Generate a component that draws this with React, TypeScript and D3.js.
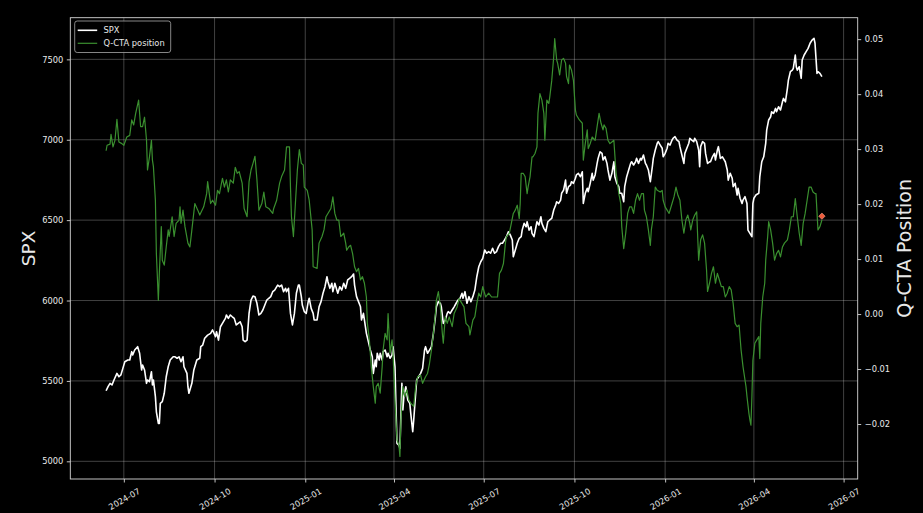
import React, { useRef, useEffect } from 'react';
import * as d3 from 'd3';

// SPX close
const spxSeries: [string, number][] = [
  ["2024-06-13",5439],["2024-06-15",5464],["2024-06-17",5485],["2024-06-19",5475],["2024-06-21",5506],["2024-06-24",5547],["2024-06-26",5526],["2024-06-28",5537],["2024-06-30",5578],
  ["2024-07-02",5619],["2024-07-05",5630],["2024-07-07",5630],["2024-07-09",5682],["2024-07-10",5661],["2024-07-12",5692],["2024-07-15",5713],["2024-07-17",5672],["2024-07-19",5568],["2024-07-20",5599],["2024-07-22",5568],["2024-07-24",5485],["2024-07-25",5506],["2024-07-27",5495],["2024-07-29",5557],["2024-07-30",5475],["2024-07-31",5506],
  ["2024-08-02",5402],["2024-08-03",5308],["2024-08-05",5236],["2024-08-06",5236],["2024-08-07",5361],["2024-08-09",5371],["2024-08-11",5423],["2024-08-13",5526],["2024-08-15",5588],["2024-08-17",5630],["2024-08-20",5650],["2024-08-22",5650],["2024-08-24",5641],["2024-08-26",5650],["2024-08-28",5619],["2024-08-30",5650],["2024-08-31",5588],
  ["2024-09-03",5547],["2024-09-04",5464],["2024-09-05",5423],["2024-09-08",5485],["2024-09-10",5568],["2024-09-13",5630],["2024-09-16",5641],["2024-09-17",5713],["2024-09-19",5723],["2024-09-21",5765],["2024-09-24",5785],["2024-09-27",5796],["2024-09-29",5817],
  ["2024-10-02",5775],["2024-10-03",5806],["2024-10-05",5754],["2024-10-07",5837],["2024-10-09",5858],["2024-10-12",5889],["2024-10-13",5910],["2024-10-15",5889],["2024-10-17",5910],["2024-10-19",5899],["2024-10-21",5889],["2024-10-23",5848],["2024-10-25",5858],["2024-10-27",5868],["2024-10-29",5837],["2024-10-30",5754],
  ["2024-11-01",5744],["2024-11-03",5754],["2024-11-05",5920],["2024-11-07",6003],["2024-11-09",6028],["2024-11-11",6024],["2024-11-13",5983],["2024-11-15",5910],["2024-11-17",5920],["2024-11-19",5941],["2024-11-21",5972],["2024-11-23",6003],["2024-11-25",6014],["2024-11-27",6024],["2024-11-29",6055],
  ["2024-12-01",6065],["2024-12-04",6096],["2024-12-06",6086],["2024-12-08",6096],["2024-12-10",6055],["2024-12-12",6076],["2024-12-13",6055],["2024-12-15",6076],["2024-12-17",5920],["2024-12-19",5848],["2024-12-21",5920],["2024-12-23",6045],["2024-12-25",6096],["2024-12-26",6096],["2024-12-28",6024],["2024-12-29",5972],["2024-12-31",5931],
  ["2025-01-02",5920],["2025-01-04",5993],["2025-01-05",6014],["2025-01-07",5951],["2025-01-09",5920],["2025-01-10",5879],["2025-01-13",5879],["2025-01-15",5961],["2025-01-17",5993],["2025-01-19",6045],["2025-01-21",6086],["2025-01-23",6148],["2025-01-24",6117],["2025-01-26",6076],["2025-01-28",6107],["2025-01-29",6055],["2025-01-31",6107],
  ["2025-02-03",6045],["2025-02-05",6086],["2025-02-07",6065],["2025-02-09",6107],["2025-02-11",6076],["2025-02-13",6128],["2025-02-15",6138],["2025-02-17",6148],["2025-02-19",6165],["2025-02-20",6096],["2025-02-22",6024],["2025-02-24",5993],["2025-02-26",5961],["2025-02-27",5879],
  ["2025-03-01",5920],["2025-03-03",5837],["2025-03-04",5796],["2025-03-06",5744],["2025-03-08",5692],["2025-03-10",5650],["2025-03-11",5547],["2025-03-13",5630],["2025-03-14",5588],["2025-03-15",5672],["2025-03-17",5630],["2025-03-18",5672],["2025-03-20",5630],["2025-03-21",5682],["2025-03-23",5692],["2025-03-25",5650],["2025-03-26",5672],["2025-03-28",5641],["2025-03-30",5661],["2025-03-31",5713],
  ["2025-04-02",5588],["2025-04-03",5340],["2025-04-04",5112],["2025-04-06",5101],["2025-04-07",5081],["2025-04-09",5485],["2025-04-10",5319],["2025-04-11",5402],["2025-04-13",5464],["2025-04-15",5381],["2025-04-17",5361],["2025-04-18",5298],["2025-04-20",5184],["2025-04-21",5257],["2025-04-23",5423],["2025-04-24",5506],["2025-04-26",5526],["2025-04-28",5547],["2025-04-30",5578],
  ["2025-05-02",5692],["2025-05-03",5713],["2025-05-05",5672],["2025-05-07",5692],["2025-05-09",5713],["2025-05-11",5796],["2025-05-13",5899],["2025-05-14",5961],["2025-05-16",5993],["2025-05-18",5983],["2025-05-19",5961],["2025-05-21",5858],["2025-05-23",5879],["2025-05-25",5920],["2025-05-26",5931],["2025-05-28",5920],["2025-05-30",5941],
  ["2025-06-01",5961],["2025-06-03",5983],["2025-06-05",6003],["2025-06-07",6014],["2025-06-09",6045],["2025-06-10",6014],["2025-06-12",6055],["2025-06-14",5983],["2025-06-16",6024],["2025-06-18",5993],["2025-06-20",6024],["2025-06-22",6065],["2025-06-24",6148],["2025-06-26",6210],["2025-06-28",6241],["2025-06-30",6262],
  ["2025-07-02",6314],["2025-07-04",6294],["2025-07-06",6304],["2025-07-08",6294],["2025-07-10",6325],["2025-07-12",6294],["2025-07-14",6304],["2025-07-16",6335],["2025-07-18",6356],["2025-07-20",6356],["2025-07-22",6376],["2025-07-24",6397],["2025-07-26",6428],["2025-07-28",6407],["2025-07-30",6376],["2025-07-31",6272],
  ["2025-08-03",6335],["2025-08-04",6356],["2025-08-06",6387],["2025-08-08",6397],["2025-08-09",6438],["2025-08-11",6480],["2025-08-13",6459],["2025-08-14",6490],["2025-08-16",6438],["2025-08-18",6459],["2025-08-19",6418],["2025-08-21",6397],["2025-08-23",6459],["2025-08-24",6490],["2025-08-26",6469],["2025-08-28",6521],["2025-08-29",6480],["2025-08-31",6449],
  ["2025-09-02",6428],["2025-09-04",6490],["2025-09-06",6501],["2025-09-08",6511],["2025-09-10",6563],["2025-09-12",6594],["2025-09-13",6614],["2025-09-15",6604],["2025-09-17",6625],["2025-09-18",6667],["2025-09-20",6687],["2025-09-22",6749],["2025-09-23",6667],["2025-09-25",6708],["2025-09-27",6718],["2025-09-28",6739],["2025-09-30",6729],
  ["2025-10-02",6760],["2025-10-03",6781],["2025-10-05",6791],["2025-10-07",6770],["2025-10-09",6801],["2025-10-10",6604],["2025-10-12",6667],["2025-10-14",6698],["2025-10-15",6677],["2025-10-17",6729],["2025-10-19",6791],["2025-10-20",6749],["2025-10-22",6781],["2025-10-24",6853],["2025-10-25",6884],["2025-10-27",6925],["2025-10-29",6915],["2025-10-30",6874],
  ["2025-11-01",6894],["2025-11-03",6853],["2025-11-04",6812],["2025-11-06",6749],["2025-11-08",6791],["2025-11-10",6863],["2025-11-11",6770],["2025-11-13",6729],["2025-11-15",6708],["2025-11-16",6667],["2025-11-18",6667],["2025-11-20",6614],["2025-11-21",6708],["2025-11-23",6770],["2025-11-25",6812],["2025-11-27",6853],["2025-11-28",6863],["2025-11-30",6843],
  ["2025-12-02",6863],["2025-12-03",6884],["2025-12-05",6853],["2025-12-07",6884],["2025-12-08",6874],["2025-12-10",6905],["2025-12-12",6853],["2025-12-13",6843],["2025-12-15",6812],["2025-12-17",6739],["2025-12-19",6832],["2025-12-20",6884],["2025-12-22",6936],["2025-12-24",6978],["2025-12-25",6988],["2025-12-27",6967],["2025-12-29",6947],["2025-12-30",6894],
  ["2026-01-01",6915],["2026-01-03",6947],["2026-01-04",6978],["2026-01-06",6967],["2026-01-08",6998],["2026-01-09",7009],["2026-01-11",7019],["2026-01-13",6998],["2026-01-15",6988],["2026-01-16",6957],["2026-01-18",6905],["2026-01-20",6853],["2026-01-21",6915],["2026-01-23",6947],["2026-01-25",6978],["2026-01-26",7009],["2026-01-28",6998],["2026-01-30",6988],["2026-01-31",7009],
  ["2026-02-02",6988],["2026-02-04",6936],["2026-02-05",6832],["2026-02-06",6957],["2026-02-08",6988],["2026-02-10",6978],["2026-02-11",6915],["2026-02-13",6853],["2026-02-15",6863],["2026-02-16",6863],["2026-02-18",6894],["2026-02-20",6915],["2026-02-21",6874],["2026-02-23",6936],["2026-02-24",6957],["2026-02-26",6884],["2026-02-28",6894],
  ["2026-03-01",6884],["2026-03-03",6863],["2026-03-05",6812],["2026-03-06",6749],["2026-03-08",6791],["2026-03-10",6760],["2026-03-11",6708],["2026-03-13",6729],["2026-03-15",6656],["2026-03-16",6698],["2026-03-18",6636],["2026-03-20",6604],["2026-03-21",6625],["2026-03-23",6646],["2026-03-25",6604],["2026-03-26",6438],["2026-03-28",6418],["2026-03-30",6397],["2026-03-31",6604],
  ["2026-04-01",6636],["2026-04-03",6656],["2026-04-06",6667],["2026-04-07",6770],["2026-04-09",6863],["2026-04-11",6894],["2026-04-13",6978],["2026-04-14",7060],["2026-04-16",7123],["2026-04-18",7143],["2026-04-19",7174],["2026-04-21",7164],["2026-04-23",7195],["2026-04-24",7174],["2026-04-26",7205],["2026-04-28",7185],["2026-04-30",7236],
  ["2026-05-01",7257],["2026-05-03",7236],["2026-05-05",7320],["2026-05-06",7371],["2026-05-08",7423],["2026-05-10",7433],["2026-05-11",7444],["2026-05-13",7527],["2026-05-14",7454],["2026-05-15",7433],["2026-05-17",7454],["2026-05-19",7382],["2026-05-20",7496],["2026-05-22",7527],["2026-05-24",7548],["2026-05-26",7568],["2026-05-28",7600],["2026-05-30",7620],
  ["2026-06-01",7631],["2026-06-02",7600],["2026-06-04",7413],["2026-06-05",7423],["2026-06-07",7413],["2026-06-09",7392],
];

// Q-CTA position (right axis)
const ctaSeries: [string, number][] = [
  ["2024-06-13",0.0297],["2024-06-14",0.0307],["2024-06-17",0.0309],["2024-06-18",0.0327],["2024-06-20",0.0304],["2024-06-22",0.0316],["2024-06-24",0.0354],["2024-06-26",0.0313],["2024-06-29",0.0310],
  ["2024-07-01",0.0307],["2024-07-04",0.0322],["2024-07-07",0.0325],["2024-07-09",0.0353],["2024-07-11",0.0344],["2024-07-13",0.0365],["2024-07-16",0.0389],["2024-07-18",0.0341],["2024-07-20",0.0341],["2024-07-22",0.0358],["2024-07-24",0.0316],["2024-07-25",0.0262],["2024-07-27",0.0286],["2024-07-29",0.0316],["2024-07-30",0.0280],["2024-07-31",0.0268],
  ["2024-08-02",0.0207],["2024-08-03",0.0110],["2024-08-05",0.0025],["2024-08-06",0.0074],["2024-08-08",0.0159],["2024-08-09",0.0098],["2024-08-11",0.0089],["2024-08-13",0.0122],["2024-08-15",0.0153],["2024-08-16",0.0141],["2024-08-19",0.0177],["2024-08-21",0.0141],["2024-08-23",0.0165],["2024-08-26",0.0171],["2024-08-27",0.0195],["2024-08-28",0.0165],["2024-08-30",0.0189],
  ["2024-09-01",0.0159],["2024-09-04",0.0129],["2024-09-06",0.0122],["2024-09-08",0.0153],["2024-09-11",0.0201],["2024-09-14",0.0189],["2024-09-16",0.0180],["2024-09-20",0.0195],["2024-09-23",0.0219],["2024-09-24",0.0241],["2024-09-27",0.0201],["2024-09-29",0.0207],
  ["2024-10-02",0.0198],["2024-10-04",0.0225],["2024-10-06",0.0219],["2024-10-09",0.0247],["2024-10-11",0.0231],["2024-10-13",0.0244],["2024-10-15",0.0222],["2024-10-17",0.0244],["2024-10-20",0.0238],["2024-10-22",0.0267],["2024-10-24",0.0256],["2024-10-26",0.0259],["2024-10-29",0.0238],["2024-10-31",0.0192],
  ["2024-11-03",0.0177],["2024-11-05",0.0241],["2024-11-07",0.0262],["2024-11-09",0.0274],["2024-11-11",0.0287],["2024-11-13",0.0244],["2024-11-15",0.0189],["2024-11-18",0.0201],["2024-11-20",0.0222],["2024-11-22",0.0195],["2024-11-25",0.0192],["2024-11-29",0.0183],["2024-11-30",0.0192],
  ["2024-12-03",0.0207],["2024-12-06",0.0238],["2024-12-08",0.0250],["2024-12-11",0.0262],["2024-12-13",0.0304],["2024-12-16",0.0304],["2024-12-17",0.0231],["2024-12-18",0.0177],["2024-12-20",0.0141],["2024-12-22",0.0201],["2024-12-24",0.0262],["2024-12-26",0.0299],["2024-12-28",0.0274],["2024-12-30",0.0271],["2024-12-31",0.0231],
  ["2025-01-03",0.0225],["2025-01-05",0.0207],["2025-01-08",0.0153],["2025-01-09",0.0086],["2025-01-13",0.0083],["2025-01-15",0.0129],["2025-01-18",0.0141],["2025-01-20",0.0153],["2025-01-22",0.0177],["2025-01-24",0.0183],["2025-01-27",0.0192],["2025-01-29",0.0213],["2025-01-31",0.0183],
  ["2025-02-02",0.0171],["2025-02-04",0.0171],["2025-02-06",0.0141],["2025-02-09",0.0147],["2025-02-11",0.0129],["2025-02-12",0.0116],["2025-02-14",0.0122],["2025-02-16",0.0125],["2025-02-18",0.0110],["2025-02-20",0.0086],["2025-02-22",0.0077],["2025-02-24",0.0083],["2025-02-26",0.0062],["2025-02-28",0.0068],
  ["2025-03-02",0.0056],["2025-03-04",0.0031],["2025-03-05",-0.0017],["2025-03-07",-0.0047],["2025-03-09",-0.0096],["2025-03-11",-0.0132],["2025-03-13",-0.0162],["2025-03-14",-0.0132],["2025-03-16",-0.0126],["2025-03-18",-0.0144],["2025-03-20",-0.0096],["2025-03-21",-0.0065],["2025-03-23",-0.0035],["2025-03-25",-0.0047],["2025-03-26",0.0001],["2025-03-28",-0.0071],["2025-03-30",-0.0047],["2025-03-31",-0.0071],
  ["2025-04-02",-0.0156],["2025-04-04",-0.0229],["2025-04-06",-0.0238],["2025-04-07",-0.0259],["2025-04-08",-0.0193],["2025-04-10",-0.0132],["2025-04-12",-0.0150],["2025-04-14",-0.0138],["2025-04-16",-0.0156],["2025-04-18",-0.0162],["2025-04-21",-0.0168],["2025-04-23",-0.0132],["2025-04-25",-0.0114],["2025-04-28",-0.0111],["2025-04-30",-0.0126],
  ["2025-05-03",-0.0114],["2025-05-05",-0.0108],["2025-05-07",-0.0090],["2025-05-09",-0.0065],["2025-05-11",-0.0035],["2025-05-13",0.0001],["2025-05-14",0.0025],["2025-05-16",0.0041],["2025-05-18",0.0013],["2025-05-20",-0.0035],["2025-05-21",-0.0053],["2025-05-23",-0.0005],["2025-05-25",-0.0017],["2025-05-27",-0.0005],["2025-05-30",-0.0023],
  ["2025-06-01",0.0001],["2025-06-04",0.0013],["2025-06-06",0.0028],["2025-06-09",0.0019],["2025-06-11",0.0013],["2025-06-13",-0.0017],["2025-06-16",-0.0023],["2025-06-17",-0.0038],["2025-06-20",-0.0011],["2025-06-22",-0.0005],["2025-06-24",0.0019],["2025-06-26",0.0038],["2025-06-28",0.0031],["2025-06-30",0.0050],
  ["2025-07-03",0.0031],["2025-07-06",0.0038],["2025-07-09",0.0031],["2025-07-13",0.0031],["2025-07-15",0.0031],["2025-07-17",0.0074],["2025-07-19",0.0080],["2025-07-21",0.0092],["2025-07-23",0.0129],["2025-07-24",0.0141],["2025-07-27",0.0147],["2025-07-29",0.0165],["2025-07-31",0.0183],
  ["2025-08-02",0.0189],["2025-08-04",0.0198],["2025-08-06",0.0174],["2025-08-07",0.0201],["2025-08-08",0.0256],["2025-08-10",0.0256],["2025-08-12",0.0250],["2025-08-14",0.0219],["2025-08-15",0.0231],["2025-08-17",0.0250],["2025-08-19",0.0286],["2025-08-20",0.0286],["2025-08-22",0.0292],["2025-08-24",0.0304],["2025-08-25",0.0365],["2025-08-27",0.0401],["2025-08-29",0.0389],["2025-08-31",0.0365],
  ["2025-09-01",0.0316],["2025-09-03",0.0389],["2025-09-05",0.0383],["2025-09-06",0.0395],["2025-09-08",0.0425],["2025-09-10",0.0468],["2025-09-11",0.0501],["2025-09-13",0.0462],["2025-09-14",0.0456],["2025-09-16",0.0435],["2025-09-18",0.0462],["2025-09-20",0.0465],["2025-09-22",0.0456],["2025-09-23",0.0432],["2025-09-25",0.0419],["2025-09-26",0.0453],["2025-09-28",0.0444],["2025-09-30",0.0425],
  ["2025-10-02",0.0371],["2025-10-03",0.0362],["2025-10-06",0.0353],["2025-10-09",0.0347],["2025-10-10",0.0280],["2025-10-12",0.0310],["2025-10-14",0.0335],["2025-10-15",0.0301],["2025-10-17",0.0310],["2025-10-19",0.0322],["2025-10-22",0.0316],["2025-10-24",0.0341],["2025-10-26",0.0365],["2025-10-28",0.0347],["2025-10-30",0.0335],["2025-10-31",0.0344],
  ["2025-11-02",0.0338],["2025-11-04",0.0316],["2025-11-06",0.0310],["2025-11-08",0.0313],["2025-11-10",0.0316],["2025-11-12",0.0262],["2025-11-15",0.0219],["2025-11-17",0.0201],["2025-11-18",0.0159],["2025-11-20",0.0119],["2025-11-22",0.0147],["2025-11-24",0.0183],["2025-11-26",0.0195],["2025-11-28",0.0195],["2025-11-30",0.0183],
  ["2025-12-02",0.0207],["2025-12-04",0.0219],["2025-12-06",0.0207],["2025-12-08",0.0219],["2025-12-10",0.0219],["2025-12-11",0.0189],["2025-12-13",0.0177],["2025-12-15",0.0153],["2025-12-17",0.0125],["2025-12-18",0.0153],["2025-12-20",0.0177],["2025-12-22",0.0231],["2025-12-24",0.0225],["2025-12-27",0.0222],["2025-12-29",0.0225],["2025-12-30",0.0207],
  ["2026-01-01",0.0195],["2026-01-03",0.0189],["2026-01-05",0.0183],["2026-01-08",0.0201],["2026-01-10",0.0213],["2026-01-12",0.0231],["2026-01-14",0.0216],["2026-01-16",0.0207],["2026-01-18",0.0171],["2026-01-20",0.0147],["2026-01-22",0.0171],["2026-01-24",0.0180],["2026-01-26",0.0165],["2026-01-27",0.0153],["2026-01-29",0.0171],["2026-01-31",0.0180],
  ["2026-02-02",0.0186],["2026-02-03",0.0141],["2026-02-04",0.0098],["2026-02-06",0.0135],["2026-02-08",0.0144],["2026-02-10",0.0129],["2026-02-12",0.0080],["2026-02-13",0.0041],["2026-02-15",0.0056],["2026-02-17",0.0074],["2026-02-19",0.0086],["2026-02-21",0.0056],["2026-02-23",0.0074],["2026-02-25",0.0062],["2026-02-27",0.0050],
  ["2026-03-01",0.0050],["2026-03-03",0.0031],["2026-03-05",0.0038],["2026-03-07",0.0050],["2026-03-09",0.0044],["2026-03-11",0.0019],["2026-03-13",-0.0017],["2026-03-15",-0.0023],["2026-03-17",-0.0020],["2026-03-19",-0.0065],["2026-03-21",-0.0096],["2026-03-23",-0.0120],["2026-03-24",-0.0132],["2026-03-25",-0.0150],["2026-03-27",-0.0181],["2026-03-28",-0.0193],["2026-03-29",-0.0202],["2026-03-30",-0.0150],["2026-03-31",-0.0084],
  ["2026-04-02",-0.0053],["2026-04-04",-0.0047],["2026-04-06",-0.0041],["2026-04-07",-0.0081],["2026-04-08",-0.0017],["2026-04-10",0.0031],["2026-04-12",0.0056],["2026-04-13",0.0098],["2026-04-15",0.0141],["2026-04-16",0.0168],["2026-04-18",0.0153],["2026-04-20",0.0129],["2026-04-22",0.0098],["2026-04-24",0.0110],["2026-04-26",0.0116],["2026-04-28",0.0104],["2026-04-30",0.0122],
  ["2026-05-02",0.0129],["2026-05-05",0.0135],["2026-05-07",0.0153],["2026-05-09",0.0177],["2026-05-11",0.0177],["2026-05-13",0.0210],["2026-05-15",0.0177],["2026-05-17",0.0147],["2026-05-19",0.0125],["2026-05-21",0.0165],["2026-05-23",0.0183],["2026-05-25",0.0207],["2026-05-27",0.0231],["2026-05-29",0.0231],["2026-05-31",0.0222],
  ["2026-06-02",0.0219],["2026-06-03",0.0219],["2026-06-05",0.0153],["2026-06-07",0.0159],["2026-06-09",0.0171],
];

// latest Q-CTA reading, drawn as a diamond
const latestMarker: [string, number] = ["2026-06-09", 0.0178];

const xTicks = ["2024-07-01", "2024-10-01", "2025-01-01", "2025-04-01", "2025-07-01", "2025-10-01", "2026-01-01", "2026-04-01", "2026-07-01"];
const spxTicks = [5000, 5500, 6000, 6500, 7000, 7500];
const ctaTicks = [-0.02, -0.01, 0, 0.01, 0.02, 0.03, 0.04, 0.05];
const spxDomain = [4890, 7759];
const ctaDomain = [-0.0300, 0.0539];
const legendItems = [
  { label: "SPX", color: "#ffffff", width: 1.6 },
  { label: "Q-CTA position", color: "#3a8f2f", width: 1.2 },
];

const W = 923;
const H = 513;
const FONT = "'DejaVu Sans', sans-serif";

const App: React.FC = () => {
  const svgRef = useRef<SVGSVGElement>(null);

  useEffect(() => {
    if (!svgRef.current) return;
    const svg = d3.select(svgRef.current);
    svg.selectAll("*").remove();

    const margin = { top: 17.7, right: 65.3, bottom: 34, left: 70.3 };
    const x0 = margin.left, x1 = W - margin.right;
    const y0 = margin.top, y1 = H - margin.bottom;

    const parse = d3.utcParse("%Y-%m-%d");
    const spx = spxSeries.map(([d, v]) => ({ date: parse(d)!, value: v }));
    const cta = ctaSeries.map(([d, v]) => ({ date: parse(d)!, value: v }));

    // matplotlib-style 5% x margins
    const [dMin, dMax] = d3.extent([...spx, ...cta], d => d.date) as [Date, Date];
    const pad = (dMax.getTime() - dMin.getTime()) * 0.05;
    const x = d3.scaleUtc()
      .domain([new Date(dMin.getTime() - pad), new Date(dMax.getTime() + pad)])
      .range([x0, x1]);
    const yL = d3.scaleLinear().domain(spxDomain).range([y1, y0]);
    const yR = d3.scaleLinear().domain(ctaDomain).range([y1, y0]);

    svg.append("rect").attr("width", W).attr("height", H).attr("fill", "#000");

    // grid
    const grid = svg.append("g").attr("stroke", "#ffffff").attr("stroke-opacity", 0.32).attr("stroke-width", 0.8);
    xTicks.forEach(t => {
      const px = x(parse(t)!);
      grid.append("line").attr("x1", px).attr("x2", px).attr("y1", y0).attr("y2", y1);
    });
    spxTicks.forEach(t => {
      grid.append("line").attr("x1", x0).attr("x2", x1).attr("y1", yL(t)).attr("y2", yL(t));
    });

    // lines
    const lineL = d3.line<{ date: Date; value: number }>().x(d => x(d.date)).y(d => yL(d.value));
    const lineR = d3.line<{ date: Date; value: number }>().x(d => x(d.date)).y(d => yR(d.value));

    svg.append("path")
      .datum(spx)
      .attr("d", lineL)
      .attr("fill", "none")
      .attr("stroke", legendItems[0].color)
      .attr("stroke-width", legendItems[0].width)
      .attr("stroke-linejoin", "round");

    svg.append("path")
      .datum(cta)
      .attr("d", lineR)
      .attr("fill", "none")
      .attr("stroke", legendItems[1].color)
      .attr("stroke-width", legendItems[1].width)
      .attr("stroke-linejoin", "round");

    // latest marker
    svg.append("path")
      .attr("d", d3.symbol(d3.symbolSquare, 20)())
      .attr("transform", `translate(${x(parse(latestMarker[0])!)},${yR(latestMarker[1])}) rotate(45)`)
      .attr("fill", "#ef5b3c")
      .attr("stroke", "#f7a088")
      .attr("stroke-width", 0.6);

    // spines
    svg.append("rect")
      .attr("x", x0).attr("y", y0)
      .attr("width", x1 - x0).attr("height", y1 - y0)
      .attr("fill", "none")
      .attr("stroke", "#d8d8d8")
      .attr("stroke-width", 0.9);

    const tickColor = "#d8d8d8";
    const textColor = "#e8e8e8";
    const styleAxis = (g: d3.Selection<SVGGElement, unknown, null, undefined>) => {
      g.select(".domain").remove();
      g.selectAll(".tick line").attr("stroke", tickColor).attr("stroke-width", 0.9);
      g.selectAll(".tick text")
        .attr("fill", textColor)
        .style("font-family", FONT)
        .style("font-size", "8.3px");
    };

    svg.append("g")
      .attr("transform", `translate(${x0},0)`)
      .call(d3.axisLeft(yL).tickValues(spxTicks).tickSize(3.5).tickPadding(3.5).tickFormat(d3.format("d")))
      .call(styleAxis);

    svg.append("g")
      .attr("transform", `translate(${x1},0)`)
      .call(d3.axisRight(yR).tickValues(ctaTicks).tickSize(3.5).tickPadding(3.5).tickFormat(d3.format(".2f")))
      .call(styleAxis);

    const xAxis = svg.append("g")
      .attr("transform", `translate(0,${y1})`)
      .call(d3.axisBottom(x).tickValues(xTicks.map(t => parse(t)!)).tickSize(3.5).tickFormat(d => d3.utcFormat("%Y-%m")(d as Date)))
      .call(styleAxis);
    xAxis.selectAll(".tick text")
      .attr("y", 0)
      .attr("dy", null)
      .attr("text-anchor", "middle")
      .attr("dominant-baseline", "central")
      .attr("transform", `translate(0,20) rotate(-30)`);

    // axis titles
    svg.append("text")
      .attr("transform", `translate(28,${(y0 + y1) / 2}) rotate(-90)`)
      .attr("text-anchor", "middle")
      .attr("dominant-baseline", "central")
      .style("font-family", FONT)
      .style("font-size", "18.5px")
      .attr("fill", textColor)
      .text("SPX");

    svg.append("text")
      .attr("transform", `translate(903.5,${(y0 + y1) / 2}) rotate(-90)`)
      .attr("text-anchor", "middle")
      .attr("dominant-baseline", "central")
      .style("font-family", FONT)
      .style("font-size", "19px")
      .attr("fill", textColor)
      .text("Q-CTA Position");

    // legend
    const legend = svg.append("g").attr("transform", `translate(${x0 + 4.4},${y0 + 3.3})`);
    legend.append("rect")
      .attr("width", 96)
      .attr("height", 31.5)
      .attr("rx", 2.5)
      .attr("fill", "#000")
      .attr("fill-opacity", 0.8)
      .attr("stroke", "#a8a8a8")
      .attr("stroke-width", 0.8);

    legendItems.forEach((item, i) => {
      const cy = 9.3 + i * 13;
      legend.append("line")
        .attr("x1", 3).attr("x2", 22.5)
        .attr("y1", cy).attr("y2", cy)
        .attr("stroke", item.color)
        .attr("stroke-width", item.width);
      legend.append("text")
        .attr("x", 28.8)
        .attr("y", cy)
        .attr("dominant-baseline", "central")
        .style("font-family", FONT)
        .style("font-size", "8.3px")
        .attr("fill", textColor)
        .text(item.label);
    });
  }, []);

  return (
    <div style={{ position: "fixed", left: 0, top: 0, width: W, height: H, background: "#000" }}>
      <svg ref={svgRef} width={W} height={H} style={{ display: "block" }} />
    </div>
  );
};

export default App;
